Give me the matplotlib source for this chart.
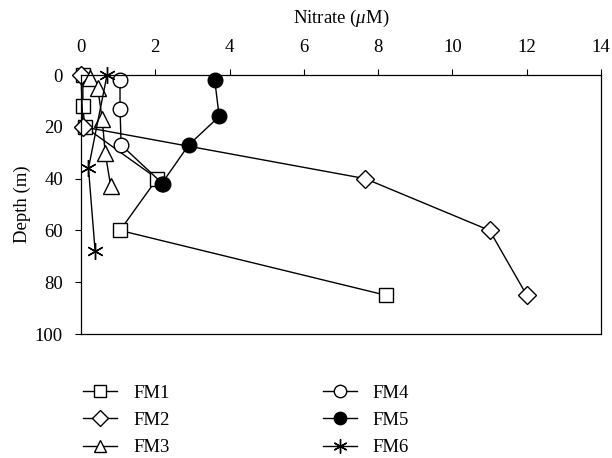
import matplotlib
matplotlib.use("Agg")
import matplotlib.pyplot as plt

plt.rcParams['font.family'] = ['Liberation Serif', 'DejaVu Serif']
plt.rcParams['mathtext.fontset'] = 'custom'
plt.rcParams['mathtext.it'] = 'Liberation Serif:italic'
plt.rcParams['mathtext.rm'] = 'Liberation Serif'

# Data (nitrate uM, depth m)
fm1_x = [0.05, 0.05, 0.1, 2.05, 1.05, 8.2]
fm1_d = [0, 12, 20, 40, 60, 85]
fm2_x = [0.0, 0.05, 7.65, 11.0, 12.0]
fm2_d = [0, 20, 40, 60, 85]
fm3_x = [0.25, 0.45, 0.57, 0.65, 0.8]
fm3_d = [1, 5, 17, 30, 43]
fm4_x = [1.05, 1.05, 1.08, 2.2]
fm4_d = [2, 13, 27, 42]
fm5_x = [3.6, 3.72, 2.9, 2.17]
fm5_d = [2, 16, 27, 42]
fm6_x = [0.7, 0.2, 0.38]
fm6_d = [0, 36, 68]

x_ticks = [0, 2, 4, 6, 8, 10, 12, 14]
y_ticks = [0, 20, 40, 60, 80, 100]

FS = 13.5

fig = plt.figure(figsize=(6.12, 4.58), dpi=100)
ax = fig.add_axes([0.1324, 0.2707, 0.8496, 0.5655])

def style(ms, **kw):
    d = dict(color='black', linewidth=1.0, markersize=ms, markeredgewidth=1.0, clip_on=False)
    d.update(kw)
    return d

ax.plot(fm1_x, fm1_d, marker='s', mfc='white', label='FM1', **style(10.5))
ax.plot(fm2_x, fm2_d, marker='D', mfc='white', label='FM2', **style(9.5))
ax.plot(fm3_x, fm3_d, marker='^', mfc='white', label='FM3', **style(11))
ax.plot(fm4_x, fm4_d, marker='o', mfc='white', label='FM4', **style(10.5))
ax.plot(fm5_x, fm5_d, marker='o', mfc='black', label='FM5', **style(10.5))
ax.plot(fm6_x, fm6_d, marker=(6, 2, 0), label='FM6', **style(12))

ax.set_xlim(0, 14)
ax.set_ylim(100, 0)
ax.set_xticks(x_ticks)
ax.set_yticks(y_ticks)
ax.xaxis.tick_top()
ax.xaxis.set_label_position('top')
ax.tick_params(axis='both', direction='out', length=4, width=0.8, labelsize=FS, colors='black')
ax.tick_params(axis='x', pad=10)
ax.tick_params(axis='y', pad=9)
ax.set_xlabel(r'Nitrate ($\mu$M)', fontsize=FS, labelpad=11)
ax.set_ylabel('Depth (m)', fontsize=FS, labelpad=3)
for s in ax.spines.values():
    s.set_linewidth(0.9)

handles, labels = ax.get_legend_handles_labels()
leg = fig.legend(handles, labels, loc='upper left', bbox_to_anchor=(0.121, 0.181), ncol=2,
                 frameon=False, fontsize=FS, columnspacing=8.2, handlelength=1.8,
                 labelspacing=0.55, handletextpad=0.85, borderpad=0, markerscale=0.85)

fig.savefig('out.png', dpi=100)
